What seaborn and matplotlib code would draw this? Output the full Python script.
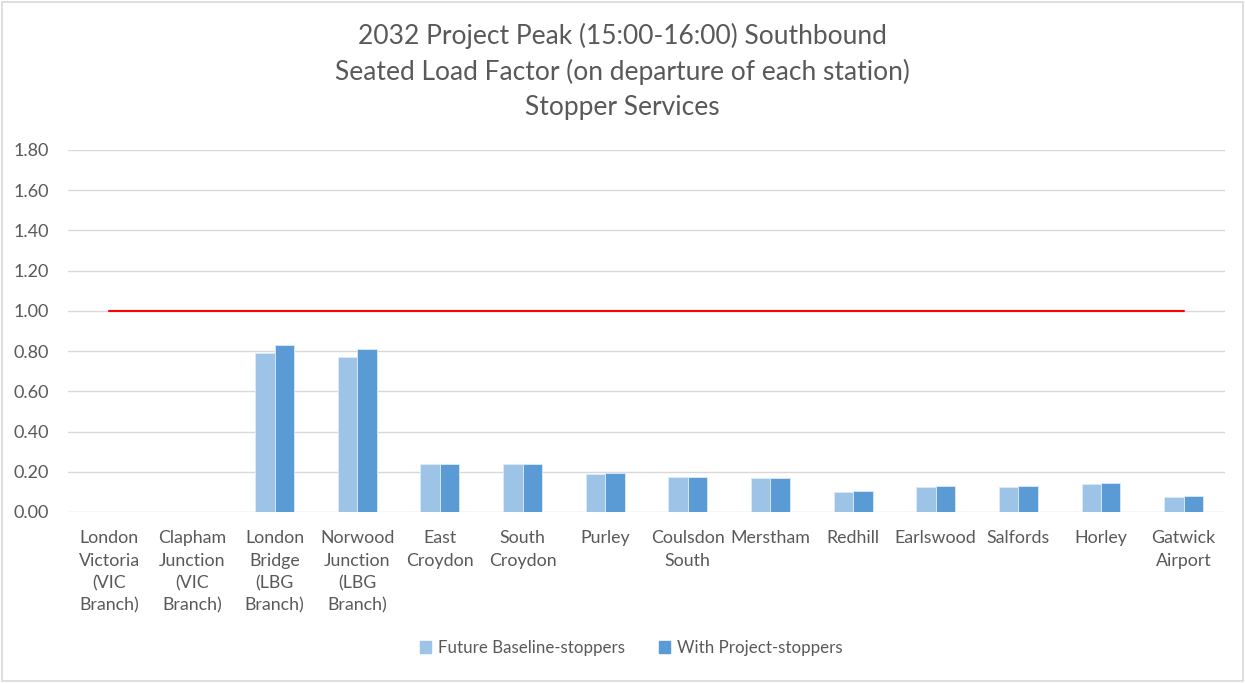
import matplotlib
matplotlib.use("Agg")
import matplotlib.pyplot as plt
import matplotlib.patches as mpatches
import seaborn as sns
import pandas as pd

stations = [
    "London\nVictoria\n(VIC\nBranch)",
    "Clapham\nJunction\n(VIC\nBranch)",
    "London\nBridge\n(LBG\nBranch)",
    "Norwood\nJunction\n(LBG\nBranch)",
    "East\nCroydon",
    "South\nCroydon",
    "Purley",
    "Coulsdon\nSouth",
    "Merstham",
    "Redhill",
    "Earlswood",
    "Salfords",
    "Horley",
    "Gatwick\nAirport",
]
baseline = [0.00, 0.00, 0.79, 0.77, 0.24, 0.24, 0.19, 0.175, 0.17, 0.10, 0.125, 0.125, 0.14, 0.073]
with_project = [0.00, 0.00, 0.83, 0.81, 0.24, 0.24, 0.195, 0.175, 0.17, 0.105, 0.13, 0.13, 0.145, 0.078]
capacity = [1.0] * len(stations)
series_names = ["Future Baseline-stoppers", "With Project-stoppers"]
y_ticks = [0.0, 0.2, 0.4, 0.6, 0.8, 1.0, 1.2, 1.4, 1.6, 1.8]

colors = ["#9DC3E6", "#5B9BD5"]
text_color = "#595959"

df = pd.DataFrame({
    "station": stations * 2,
    "value": baseline + with_project,
    "series": [series_names[0]] * len(stations) + [series_names[1]] * len(stations),
})

sns.set_theme(style="white")
plt.rcParams["font.family"] = ["Lato", "DejaVu Sans"]

fig = plt.figure(figsize=(12.45, 6.83), dpi=100)
ax = fig.add_axes([68 / 1245, 1 - 512 / 683, (1225 - 68) / 1245, (512 - 150) / 683])

sns.barplot(data=df, x="station", y="value", hue="series", order=stations,
            hue_order=series_names, palette=colors, saturation=1, width=0.47, gap=0,
            edgecolor="#DDEBF7", linewidth=0.6, legend=False, ax=ax, zorder=3)

ax.plot(range(len(stations)), capacity, color="#FF0000", linewidth=1.5, zorder=4)

ax.set_ylim(0, 1.8)
ax.set_xlim(-0.5, len(stations) - 0.5)
ax.set_yticks(y_ticks)
ax.set_yticklabels([f"{v:.2f}" for v in y_ticks])
ax.yaxis.grid(True, color="#D9D9D9", linewidth=1.0, zorder=0)
ax.set_axisbelow(True)
for s in ax.spines.values():
    s.set_visible(False)
ax.set_xlabel("")
ax.set_ylabel("")
ax.tick_params(axis="y", length=0, pad=14, labelsize=13, labelcolor=text_color)
ax.tick_params(axis="x", length=0, pad=13, labelsize=12.8, labelcolor=text_color)
for lbl in ax.get_xticklabels():
    lbl.set_linespacing(1.5)

fig.text(0.5, 1 - 36 / 683, "2032 Project Peak (15:00-16:00) Southbound",
         ha="center", va="center", fontsize=19, color=text_color)
fig.text(0.5, 1 - 72 / 683, "Seated Load Factor (on departure of each station)",
         ha="center", va="center", fontsize=19, color=text_color)
fig.text(0.5, 1 - 107 / 683, "Stopper Services",
         ha="center", va="center", fontsize=19, color=text_color)

handles = [mpatches.Patch(color=c, label=n) for c, n in zip(colors, series_names)]
fig.legend(handles=handles, loc="center", bbox_to_anchor=(0.5 + 9 / 1245, 1 - 648 / 683),
           ncol=2, frameon=False, fontsize=12.2, labelcolor=text_color,
           handlelength=0.65, handleheight=0.65, handletextpad=0.4, columnspacing=2.0)

border = mpatches.Rectangle((2 / 1245, 2 / 683), 1 - 4 / 1245, 1 - 4 / 683,
                            transform=fig.transFigure, fill=False,
                            edgecolor="#D9D9D9", linewidth=1.2)
fig.patches.append(border)

fig.savefig("out.png", dpi=100, facecolor="white")
